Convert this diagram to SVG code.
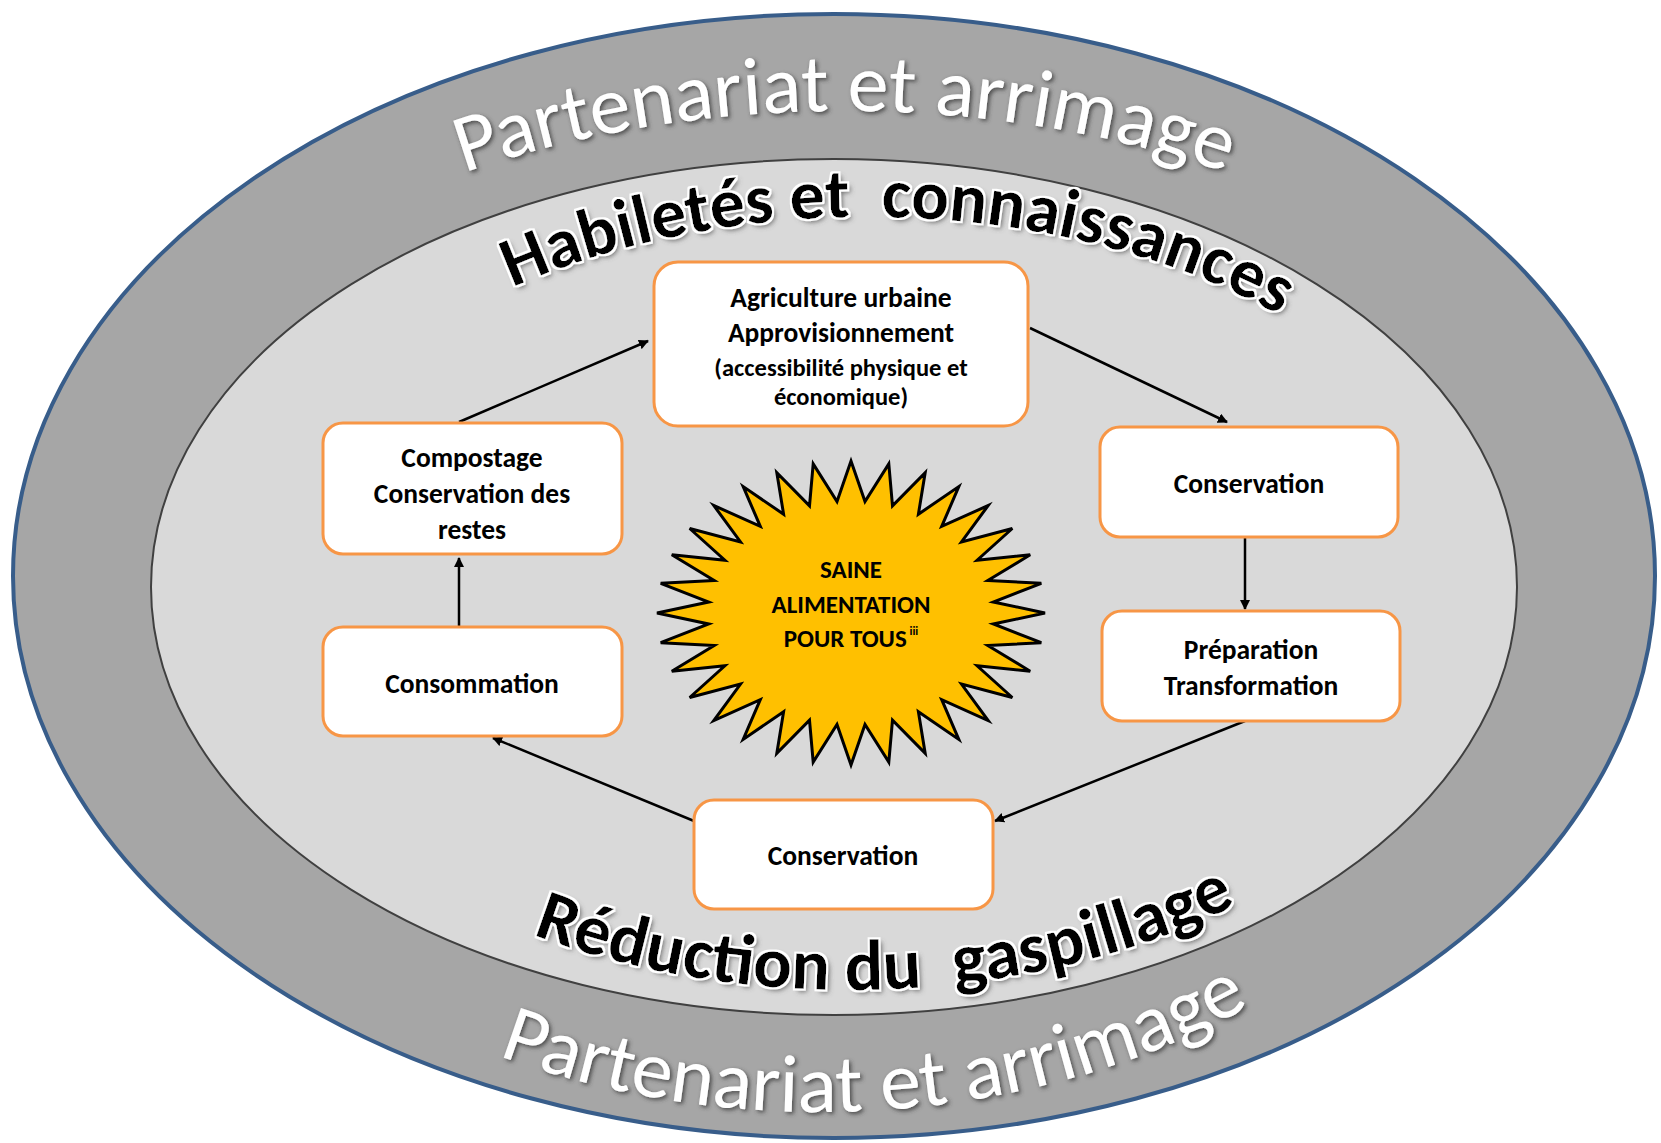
<svg xmlns="http://www.w3.org/2000/svg" xmlns:xlink="http://www.w3.org/1999/xlink" width="1661" height="1143" viewBox="0 0 1661 1143">
<style>
.box{fill:#FFFFFF;stroke:#F79646;stroke-width:3}
.lbl{font-family:Carlito,Lato,"Liberation Sans",sans-serif;font-weight:700;fill:#000;text-anchor:middle}
.big{font-size:27.5px}
.sm{font-size:24.5px}
.st{font-size:25px}
.ring-w{font-family:Carlito,Lato,"Liberation Sans",sans-serif;font-size:82px;fill:#FFFFFF}
.ring-b{font-family:Carlito,Lato,"Liberation Sans",sans-serif;font-size:70px;font-weight:700;fill:#000}
.conn{fill:none;stroke:#000;stroke-width:2.5}
</style>
<defs>
<marker id="ah" viewBox="0 0 10 10" refX="9" refY="5" markerWidth="4" markerHeight="4" orient="auto" markerUnits="strokeWidth">
<path d="M0,0 L10,5 L0,10 z" fill="#000"/>
</marker>
<filter id="fw" x="-10%" y="-30%" width="120%" height="160%">
<feGaussianBlur in="SourceAlpha" stdDeviation="2"/>
<feOffset dx="2" dy="2" result="b"/>
<feFlood flood-color="#3a3a3a" flood-opacity="0.85"/>
<feComposite in2="b" operator="in" result="s"/>
<feMerge><feMergeNode in="s"/><feMergeNode in="SourceGraphic"/></feMerge>
</filter>
<filter id="fb" x="-10%" y="-30%" width="120%" height="160%">
<feGaussianBlur in="SourceAlpha" stdDeviation="2.5"/>
<feOffset dx="3" dy="3" result="b"/>
<feFlood flood-color="#505050" flood-opacity="0.8"/>
<feComposite in2="b" operator="in" result="s"/>
<feMorphology in="SourceAlpha" operator="dilate" radius="1.6" result="d"/>
<feFlood flood-color="#FFFFFF"/>
<feComposite in2="d" operator="in" result="g"/>
<feMerge><feMergeNode in="s"/><feMergeNode in="g"/><feMergeNode in="SourceGraphic"/></feMerge>
</filter>
<path id="pTop" d="M80,575 A765,464 0 0 1 1610,575"/>
<path id="pBot" d="M100,575 A720,537 0 0 0 1540,575"/>
<path id="pHab" d="M262,587 A606,370 0 0 1 1474,587"/>
<path id="pRed" d="M223,587 A627,403 0 0 0 1477,587"/>
</defs>

<g id="outer-ring">
<ellipse cx="834" cy="576" rx="821" ry="562" fill="#A6A6A6" stroke="#385D8A" stroke-width="4"/>
</g>
<g id="inner-ring">
<ellipse cx="834" cy="587" rx="683" ry="428" fill="#D9D9D9" stroke="#404040" stroke-width="2"/>
</g>

<g id="ring-labels">
<text class="ring-w" filter="url(#fw)"><textPath xlink:href="#pTop" href="#pTop" startOffset="50%" text-anchor="middle">Partenariat et arrimage</textPath></text>
<text class="ring-w" filter="url(#fw)"><textPath xlink:href="#pBot" href="#pBot" startOffset="53%" text-anchor="middle">Partenariat et arrimage</textPath></text>
<text class="ring-b" filter="url(#fb)"><textPath xlink:href="#pHab" href="#pHab" startOffset="52%" text-anchor="middle">Habiletés et&#160; connaissances</textPath></text>
<text class="ring-b" filter="url(#fb)" style="font-size:72px"><textPath xlink:href="#pRed" href="#pRed" startOffset="52.3%" text-anchor="middle">Réduction du&#160; gaspillage</textPath></text>
</g>

<g id="connectors">
<line class="conn" x1="459" y1="422" x2="648" y2="341" marker-end="url(#ah)"/>
<line class="conn" x1="1030" y1="328" x2="1227" y2="422" marker-end="url(#ah)"/>
<line class="conn" x1="1245" y1="538" x2="1245" y2="609" marker-end="url(#ah)"/>
<line class="conn" x1="1245" y1="721" x2="995" y2="821" marker-end="url(#ah)"/>
<line class="conn" x1="694" y1="821" x2="493" y2="738" marker-end="url(#ah)"/>
<line class="conn" x1="459" y1="627" x2="459" y2="558" marker-end="url(#ah)"/>
</g>

<g id="node-star">
<polygon fill="#FFC000" stroke="#000" stroke-width="3" stroke-linejoin="miter" points="851,461 865.0,501.5 888.8,463.9 892.5,505.8 925.2,472.6 918.4,514.2 958.8,486.6 941.7,526.4 988.2,505.5 961.5,541.9 1012.3,528.5 977.1,560.2 1030.2,554.8 987.8,580.5 1041.3,583.3 993.3,602.0 1045,613 993.3,624.0 1041.3,642.7 987.8,645.5 1030.2,671.2 977.1,665.8 1012.3,697.5 961.5,684.1 988.2,720.5 941.7,699.6 958.8,739.4 918.4,711.8 925.2,753.4 892.5,720.2 888.8,762.1 865.0,724.5 851,765 837.0,724.5 813.2,762.1 809.5,720.2 776.8,753.4 783.6,711.8 743.2,739.4 760.3,699.6 713.8,720.5 740.5,684.1 689.7,697.5 724.9,665.8 671.8,671.2 714.2,645.5 660.7,642.7 708.7,624.0 657,613 708.7,602.0 660.7,583.3 714.2,580.5 671.8,554.8 724.9,560.2 689.7,528.5 740.5,541.9 713.8,505.5 760.3,526.4 743.2,486.6 783.6,514.2 776.8,472.6 809.5,505.8 813.2,463.9 837.0,501.5"/>
<text class="lbl st" x="851" y="578">SAINE</text>
<text class="lbl st" x="851" y="613">ALIMENTATION</text>
<text class="lbl st" x="851" y="647">POUR TOUS<tspan font-size="12" dy="-12"> iii</tspan></text>
</g>

<g id="node-agriculture">
<rect class="box" x="654" y="262" width="374" height="164" rx="24"/>
<text class="lbl big" x="841" y="307">Agriculture urbaine</text>
<text class="lbl big" x="841" y="342">Approvisionnement</text>
<text class="lbl sm" x="841" y="376">(accessibilité physique et</text>
<text class="lbl sm" x="841" y="405">économique)</text>
</g>

<g id="node-conservation-1">
<rect class="box" x="1100" y="427" width="298" height="110" rx="20"/>
<text class="lbl big" x="1249" y="493">Conservation</text>
</g>

<g id="node-preparation">
<rect class="box" x="1102" y="611" width="298" height="110" rx="20"/>
<text class="lbl big" x="1251" y="659">Préparation</text>
<text class="lbl big" x="1251" y="695">Transformation</text>
</g>

<g id="node-conservation-2">
<rect class="box" x="694" y="800" width="299" height="109" rx="20"/>
<text class="lbl big" x="843" y="865">Conservation</text>
</g>

<g id="node-consommation">
<rect class="box" x="323" y="627" width="299" height="109" rx="20"/>
<text class="lbl big" x="472" y="693">Consommation</text>
</g>

<g id="node-compostage">
<rect class="box" x="323" y="423" width="299" height="131" rx="20"/>
<text class="lbl big" x="472" y="467">Compostage</text>
<text class="lbl big" x="472" y="503">Conservation des</text>
<text class="lbl big" x="472" y="539">restes</text>
</g>
</svg>
